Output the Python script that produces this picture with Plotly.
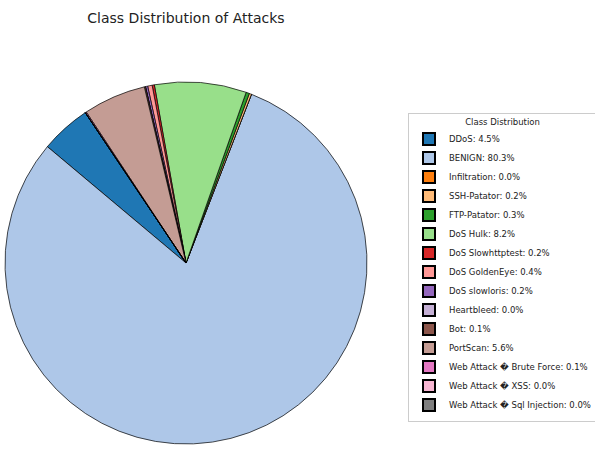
import plotly.graph_objects as go

# Attack classes and their share of all flows (%)
classes = [
    "DDoS", "BENIGN", "Infiltration", "SSH-Patator", "FTP-Patator",
    "DoS Hulk", "DoS Slowhttptest", "DoS GoldenEye", "DoS slowloris",
    "Heartbleed", "Bot", "PortScan",
    "Web Attack \ufffd Brute Force", "Web Attack \ufffd XSS",
    "Web Attack \ufffd Sql Injection",
]
shares = [4.5, 80.3, 0.0, 0.2, 0.3, 8.2, 0.2, 0.4, 0.2, 0.0, 0.1, 5.6, 0.1, 0.0, 0.0]

# tab20 palette
colors = [
    "#1f77b4", "#aec7e8", "#ff7f0e", "#ffbb78", "#2ca02c", "#98df8a",
    "#d62728", "#ff9896", "#9467bd", "#c5b0d5", "#8c564b", "#c49c94",
    "#e377c2", "#f7b6d2", "#7f7f7f",
]

legend_labels = [f"{c}: {s:.1f}%" for c, s in zip(classes, shares)]

W, H = 595, 452
cx, cy, r = 186, 263, 181  # pie centre / radius in pixels (cy from top)

fig = go.Figure(
    go.Pie(
        labels=legend_labels,
        values=shares,
        sort=False,
        direction="counterclockwise",
        rotation=-50,
        marker=dict(colors=colors, line=dict(color="black", width=0.7)),
        textinfo="none",
        hoverinfo="label",
        domain=dict(
            x=[(cx - r) / W, (cx + r) / W],
            y=[(H - cy - r) / H, (H - cy + r) / H],
        ),
        showlegend=True,
    )
)

fig.update_layout(
    width=W,
    height=H,
    margin=dict(l=0, r=0, t=0, b=0, autoexpand=False),
    paper_bgcolor="white",
    plot_bgcolor="white",
    font=dict(family="DejaVu Sans", color="#222222"),
    title=dict(
        text="Class Distribution of Attacks",
        x=cx / W,
        xanchor="center",
        y=1 - 18 / H,
        yanchor="middle",
        font=dict(size=14, color="#222222"),
    ),
    legend=dict(
        title=dict(text="Class Distribution", side="top center", font=dict(size=8.5)),
        font=dict(size=8.5),
        xref="container",
        yref="container",
        x=408 / W,
        xanchor="left",
        y=1 - 267 / H,
        yanchor="middle",
        maxheight=440,
        bordercolor="#cccccc",
        borderwidth=1,
        bgcolor="white",
        itemsizing="constant",
        traceorder="normal",
    ),
)

fig.write_html("out.html")
